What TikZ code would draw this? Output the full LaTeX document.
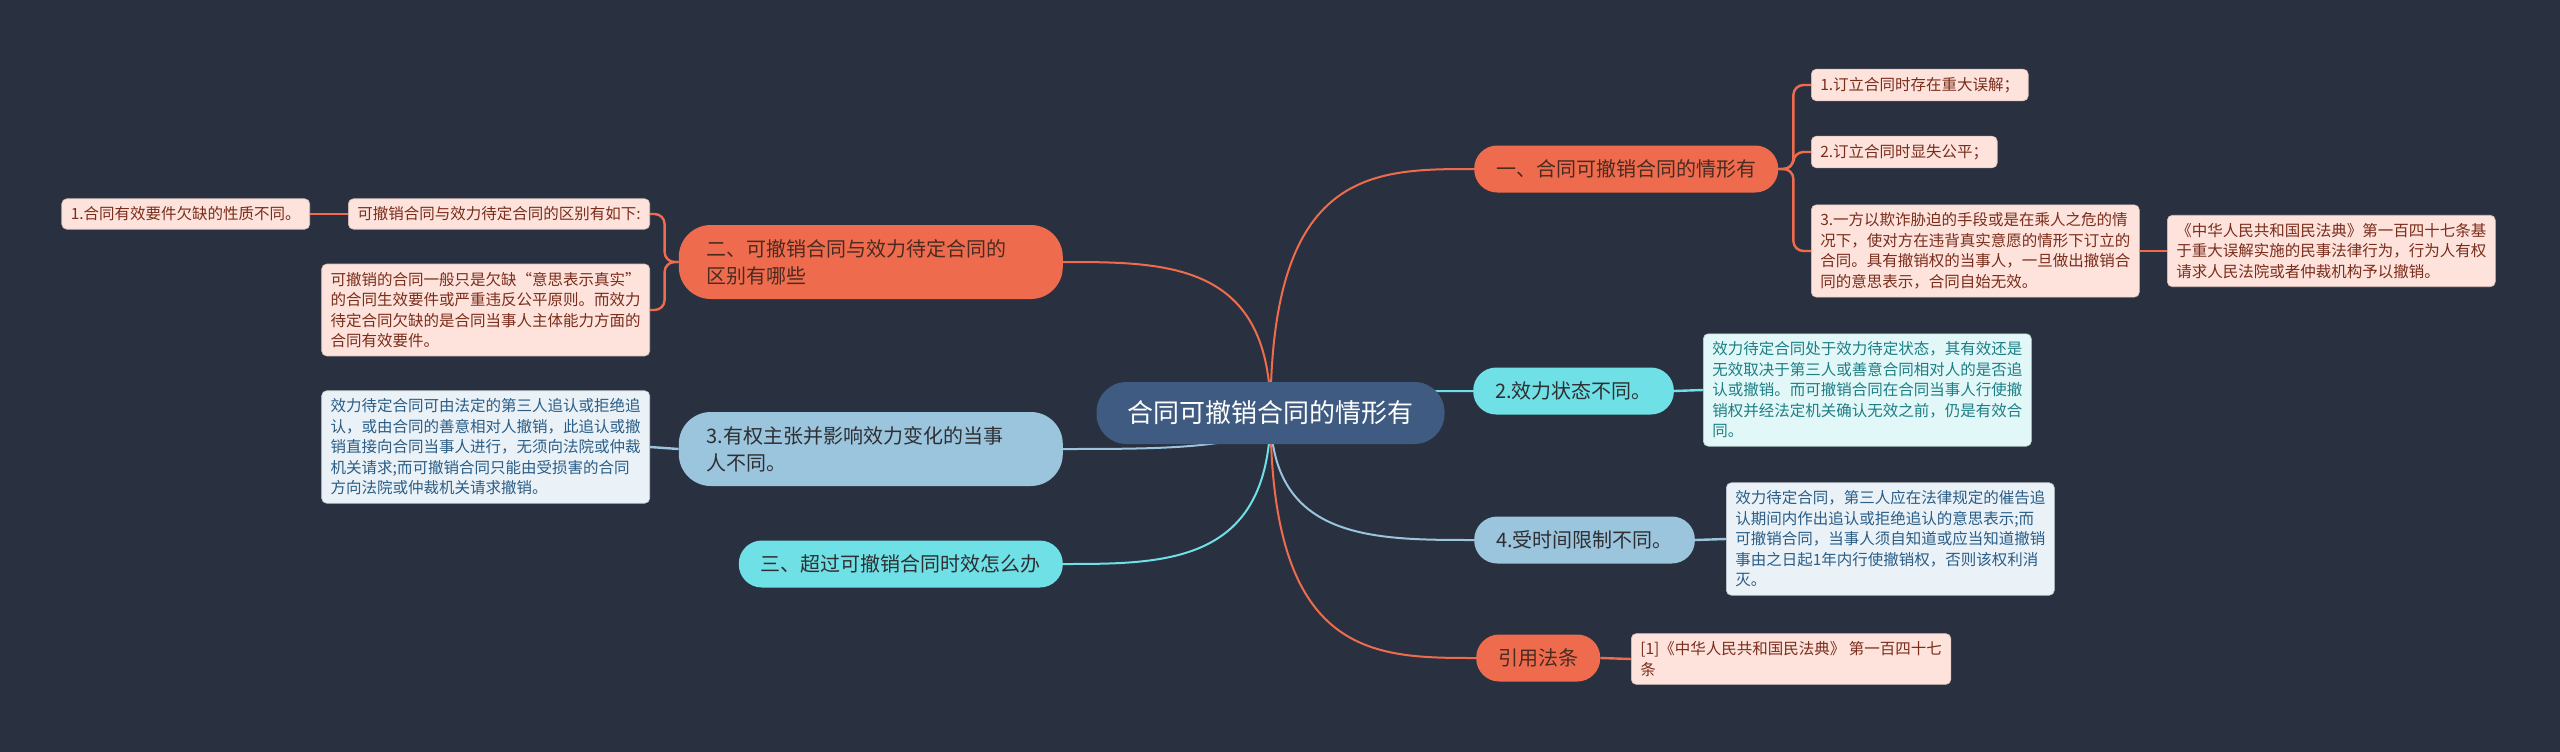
\documentclass[tikz,border=0pt]{standalone}
\usepackage{fontspec}
\setmainfont{Noto Sans CJK SC}
\usetikzlibrary{calc}
\definecolor{bgc}{HTML}{293140}
\definecolor{ctrc}{HTML}{3F5B81}
\definecolor{orng}{HTML}{EE6C4D}
\definecolor{cyn}{HTML}{6FE0E5}
\definecolor{lblu}{HTML}{9BC4DD}
\definecolor{pinkf}{HTML}{FDE3DC}
\definecolor{pinkt}{HTML}{7B2D1B}
\definecolor{cynf}{HTML}{E2F7F8}
\definecolor{cynt}{HTML}{1D7F85}
\definecolor{bluf}{HTML}{EAF2F8}
\definecolor{blut}{HTML}{2B5D86}
\definecolor{darkt}{HTML}{2E2F33}
\definecolor{orngt}{HTML}{4B2A22}
\pgfdeclarelayer{bglayer}
\pgfdeclarelayer{linelayer}
\pgfsetlayers{bglayer,linelayer,main}
\tikzset{
  ctrnode/.style={fill=ctrc, text=white, rounded corners=30pt, font=\fontsize{26}{30}\selectfont, inner xsep=31pt, minimum height=62pt},
  mainnode/.style={rounded corners=23pt, font=\fontsize{20}{27}\selectfont, inner xsep=22pt, minimum height=47pt, text=darkt, align=left},
  orngnode/.style={mainnode, fill=orng, text=orngt},
  widenode/.style={rounded corners=32pt, text width=328pt, inner xsep=28pt, minimum height=74pt},
  pinkbox/.style={fill=pinkf, text=pinkt, draw=pinkf!85!black, line width=0.6pt, rounded corners=5pt, font=\fontsize{15.5}{20.5}\selectfont, inner xsep=9pt, inner ysep=8pt, align=left},
  cynbox/.style={pinkbox, fill=cynf, text=cynt, draw=cynf!85!black},
  blubox/.style={pinkbox, fill=bluf, text=blut, draw=bluf!85!black},
  conn/.style={line width=2pt},
  subconn/.style={line width=2.4pt, rounded corners=10pt}
}
\begin{document}
\begin{tikzpicture}[x=1pt,y=-1pt]
\begin{pgfonlayer}{bglayer}
\fill[bgc] (0,0) rectangle (2560,752);
\end{pgfonlayer}
\useasboundingbox (0,0) rectangle (2560,752);

% center
\node[ctrnode] (ctr) at (1270.5,413) {合同可撤销合同的情形有};

% right branches
\node[orngnode, anchor=west] (n1) at (1474,169) {一、合同可撤销合同的情形有};
\node[pinkbox, anchor=west] (c11) at (1811,85) {1.订立合同时存在重大误解；};
\node[pinkbox, anchor=west] (c12) at (1811,152) {2.订立合同时显失公平；};
\node[pinkbox, anchor=west] (c13) at (1811,251) {3.一方以欺诈胁迫的手段或是在乘人之危的情\\况下，使对方在违背真实意愿的情形下订立的\\合同。具有撤销权的当事人，一旦做出撤销合\\同的意思表示，合同自始无效。};
\node[pinkbox, anchor=west] (c131) at (2167,251) {《中华人民共和国民法典》第一百四十七条基\\于重大误解实施的民事法律行为，行为人有权\\请求人民法院或者仲裁机构予以撤销。};

\node[mainnode, fill=cyn, anchor=west] (n2) at (1473,391) {2.效力状态不同。};
\node[cynbox, anchor=west] (c21) at (1703,390) {效力待定合同处于效力待定状态，其有效还是\\无效取决于第三人或善意合同相对人的是否追\\认或撤销。而可撤销合同在合同当事人行使撤\\销权并经法定机关确认无效之前，仍是有效合\\同。};

\node[mainnode, fill=lblu, anchor=west] (n3) at (1474,540) {4.受时间限制不同。};
\node[blubox, anchor=west] (c31) at (1726,539) {效力待定合同，第三人应在法律规定的催告追\\认期间内作出追认或拒绝追认的意思表示;而\\可撤销合同，当事人须自知道或应当知道撤销\\事由之日起1年内行使撤销权，否则该权利消\\灭。};

\node[orngnode, anchor=west] (n4) at (1476,658) {引用法条};
\node[pinkbox, anchor=west] (c41) at (1631,659) {[1]《中华人民共和国民法典》 第一百四十七\\条};

% left branches
\node[orngnode, widenode, anchor=east] (l1) at (1063,262) {二、可撤销合同与效力待定合同的\\区别有哪些};
\node[pinkbox, anchor=east] (lc11) at (650,214) {可撤销合同与效力待定合同的区别有如下:};
\node[pinkbox, anchor=east] (lc111) at (310,214) {1.合同有效要件欠缺的性质不同。};
\node[pinkbox, anchor=east] (lc12) at (650,310) {可撤销的合同一般只是欠缺“意思表示真实”\\的合同生效要件或严重违反公平原则。而效力\\待定合同欠缺的是合同当事人主体能力方面的\\合同有效要件。};

\node[mainnode, widenode, fill=lblu, anchor=east] (l2) at (1063,449) {3.有权主张并影响效力变化的当事\\人不同。};
\node[blubox, anchor=east] (lc21) at (650,447) {效力待定合同可由法定的第三人追认或拒绝追\\认，或由合同的善意相对人撤销，此追认或撤\\销直接向合同当事人进行，无须向法院或仲裁\\机关请求;而可撤销合同只能由受损害的合同\\方向法院或仲裁机关请求撤销。};

\node[mainnode, fill=cyn, anchor=east] (l3) at (1063,564) {三、超过可撤销合同时效怎么办};

% connectors
\begin{pgfonlayer}{linelayer}
\foreach \t/\col in {n1/orng, n2/cyn, n3/lblu, n4/orng} {
  \draw[conn, \col] (ctr.center) .. controls (ctr.center |- \t.west) and ($(ctr.center |- \t.west)!0.5!(\t.west)$) .. (\t.west);
}
\foreach \t/\col in {l1/orng, l2/lblu, l3/cyn} {
  \draw[conn, \col] (ctr.center) .. controls (ctr.center |- \t.east) and ($(ctr.center |- \t.east)!0.5!(\t.east)$) .. (\t.east);
}
\foreach \t in {c11, c12, c13} {
  \draw[subconn, orng] (n1.east) -- ++(15,0) |- (\t.west);
}
\draw[subconn, orng] (c13.east) -- (c131.west);
\draw[subconn, cyn] (n2.east) -- (c21.west);
\draw[subconn, lblu] (n3.east) -- (c31.west);
\draw[subconn, orng] (n4.east) -- (c41.west);
\foreach \t in {lc11, lc12} {
  \draw[subconn, orng] (l1.west) -- ++(-14,0) |- (\t.east);
}
\draw[subconn, orng] (lc11.west) -- (lc111.east);
\draw[subconn, lblu] (l2.west) -- (lc21.east);
\end{pgfonlayer}
\end{tikzpicture}
\end{document}
